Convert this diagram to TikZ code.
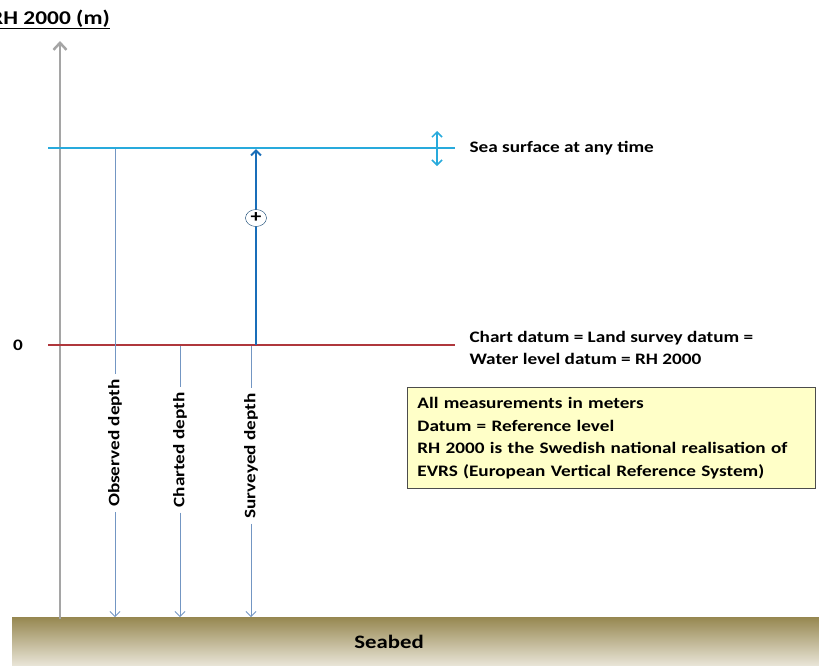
\documentclass[tikz,border=0pt]{standalone}
\usepackage{fontspec}
\setmainfont{Carlito}[FakeStretch=1.2]
\usetikzlibrary{arrows.meta,shapes.geometric}
\definecolor{seablue}{RGB}{40,170,220}
\definecolor{datumred}{RGB}{175,55,60}
\definecolor{depthblue}{RGB}{115,150,195}
\definecolor{survblue}{RGB}{25,110,185}
\definecolor{axisgray}{RGB}{165,165,165}
\definecolor{notefill}{RGB}{255,255,200}
\definecolor{bedtop}{RGB}{150,135,80}
\definecolor{bedmid}{RGB}{205,195,160}
\definecolor{bedbot}{RGB}{232,228,214}
\tikzset{
    axisline/.style={draw=axisgray, line width=2.5pt, -{Straight Barb[length=7pt,width=13pt]}},
    levelline/.style={line width=2.5pt},
    depthline/.style={draw=depthblue, line width=0.8pt},
    labeltext/.style={anchor=west, font=\bfseries\fontsize{16}{22.5}\selectfont},
    depthlabel/.style={rotate=90, fill=white, inner sep=5pt, font=\bfseries\fontsize{16}{18}\selectfont}
}

\begin{document}
\begin{tikzpicture}
  [
    x = 1pt,
    y = -1pt,
    >= {Straight Barb[length=5pt,width=10pt]},
  ]
  \useasboundingbox (0,0) rectangle (819,665);
  \clip (0,0) rectangle (819,665);

  % seabed
  \shade [top color=bedtop, middle color=bedmid, bottom color=bedbot] (12,617) rectangle (819,665);
  \node (seabed) at (389,642) {\bfseries\fontsize{19}{21}\selectfont Seabed};

  % height axis
  \coordinate (axis-bot) at (60,619);
  \coordinate (axis-top) at (60,41);
  \draw [axisline] (axis-bot) -- (axis-top);
  \node [anchor=base east, inner sep=0pt] (axislabel) at (110,24) {\bfseries\fontsize{19.5}{22}\selectfont\underline{RH 2000 (m)}};

  % sea surface and datum
  \coordinate (sea-l) at (48,148);
  \coordinate (sea-r) at (455,148);
  \coordinate (dat-l) at (48,345);
  \coordinate (dat-r) at (455,345);
  \draw [levelline, seablue] (sea-l) -- (sea-r);
  \draw [levelline, datumred] (dat-l) -- (dat-r);
  \node [anchor=east, inner sep=0pt, font=\bfseries\fontsize{16}{18}\selectfont] (zero) at (23,345) {0};

  \coordinate (tide-top) at (437,131);
  \coordinate (tide-bot) at (437,166);
  \draw [seablue, line width=1.5pt, <->] (tide-top) -- (tide-bot);
  \node [labeltext] (sealabel) at (466,148) {Sea surface at any time};
  \node [labeltext, align=left] (datlabel) at (466,348) {Chart datum = Land survey datum =\\Water level datum = RH 2000};

  % depths
  \node [depthlabel] (obs) at (115,443) {Observed depth};
  \node [depthlabel] (cha) at (180,450) {Charted depth};
  \node [depthlabel] (sur) at (251,456) {Surveyed depth};
  \draw [depthline] (115,149) -- (obs);
  \draw [depthline, ->] (obs) -- (115,617);
  \draw [depthline] (180,346) -- (cha);
  \draw [depthline, ->] (cha) -- (180,617);
  \draw [depthline] (251,346) -- (sur);
  \draw [depthline, ->] (sur) -- (251,617);

  % surveyed height above datum
  \coordinate (surv-base) at (256,345);
  \coordinate (surv-top) at (256,149);
  \draw [survblue, line width=2pt, ->] (surv-base) -- (surv-top);
  \node [ellipse, draw=survblue!60!black, fill=white, inner sep=0pt, minimum width=21pt, minimum height=17pt,
         font=\bfseries\fontsize{18}{18}\selectfont] (plus) at (256,218) {+};

  % note
  \node [draw=black!70, fill=notefill, line width=0.8pt, anchor=north west, align=left,
         text width=388pt, inner xsep=10pt, inner ysep=10pt, font=\bfseries\fontsize{16}{22.5}\selectfont] (note) at (407,387)
    {All measurements in meters\\Datum = Reference level\\RH 2000 is the Swedish national realisation of\\EVRS (European Vertical Reference System)};
\end{tikzpicture}
\end{document}
